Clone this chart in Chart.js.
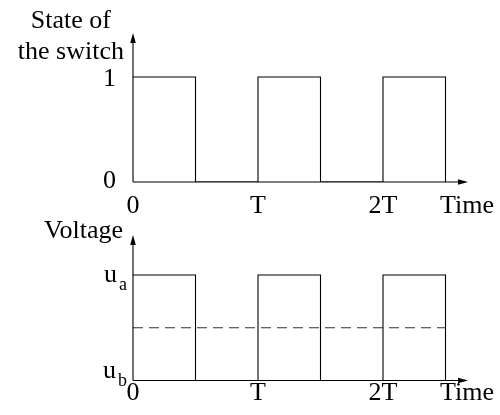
<!DOCTYPE html>
<html>
<head>
<meta charset="utf-8">
<script src="https://cdn.jsdelivr.net/npm/chart.js@4"></script>
<style>
  html, body { margin: 0; padding: 0; background: #fff; }
  #wrap { position: relative; width: 500px; height: 415px; }
  canvas { position: absolute; left: 0; }
</style>
</head>
<body>
<div id="wrap">
  <canvas id="switchChart" width="500" height="215" style="top:0;width:500px;height:215px"></canvas>
  <canvas id="voltageChart" width="500" height="200" style="top:215px;width:500px;height:200px"></canvas>
</div>
<script>
// Switching instants, in units of the period T
const edgeTimes = [0, 0.5, 1, 1.5, 2, 2.5];
// Switch state after each instant (1 = closed, 0 = open)
const switchState = [1, 0, 1, 0, 1, 0];
// Output voltage level after each instant (1 = u_a, 0 = u_b)
const voltageLevel = [1, 0, 1, 0, 1, 0];
// Average voltage, halfway between u_b and u_a
const meanTimes = [0, 2.5];
const meanLevel = [0.5, 0.5];

// Axis ticks
const timeTicks = [0, 1, 2];
const timeTickLabels = ['0', 'T', '2T'];
const stateTicks = [1, 0];
const stateTickLabels = [['1', ''], ['0', '']];
const voltageTicks = [1, 0];
const voltageTickLabels = [['u', 'a'], ['u', 'b']];

const FONT = '"Liberation Serif", "Times New Roman", serif';
const MAIN_SIZE = 26;
const SUB_SIZE = 18;
const INK = '#000';

function points(xs, ys) {
  return xs.map((x, i) => ({ x: x, y: ys[i] }));
}

// Draws arrowed axes, tick labels and axis titles from the chart's own scales
const sketchAxes = {
  id: 'sketchAxes',
  afterDatasetsDraw(chart, args, opts) {
    const ctx = chart.ctx;
    const xs = chart.scales.x, ys = chart.scales.y;
    const area = chart.chartArea;
    const x0 = xs.getPixelForValue(0);
    const y0 = ys.getPixelForValue(0);
    const xEnd = area.right, yEnd = area.top;

    ctx.save();
    ctx.strokeStyle = INK;
    ctx.fillStyle = INK;
    ctx.lineWidth = 1.1;

    // axis lines
    ctx.beginPath();
    ctx.moveTo(x0, y0); ctx.lineTo(xEnd - 4, y0);
    ctx.moveTo(x0, y0); ctx.lineTo(x0, yEnd + 4);
    ctx.stroke();

    // arrowheads
    ctx.beginPath();
    ctx.moveTo(xEnd, y0); ctx.lineTo(xEnd - 10, y0 - 2.8); ctx.lineTo(xEnd - 10, y0 + 2.8);
    ctx.closePath();
    ctx.moveTo(x0, yEnd); ctx.lineTo(x0 - 2.8, yEnd + 10); ctx.lineTo(x0 + 2.8, yEnd + 10);
    ctx.closePath();
    ctx.fill();

    // time ticks
    ctx.font = MAIN_SIZE + 'px ' + FONT;
    ctx.textAlign = 'center';
    ctx.textBaseline = 'alphabetic';
    const tickY = y0 + opts.timeLabelGap;
    timeTicks.forEach((t, i) => {
      ctx.fillText(timeTickLabels[i], xs.getPixelForValue(t), tickY);
    });
    ctx.fillText('Time', xEnd - 1, tickY);

    // level ticks (main text with optional subscript)
    opts.levelTicks.forEach((v, i) => {
      const [main, sub] = opts.levelLabels[i];
      const y = ys.getPixelForValue(v) + (v === ys.min ? opts.baseAtMin : opts.baseOther);
      let right = x0 - 6;
      if (sub) {
        ctx.font = SUB_SIZE + 'px ' + FONT;
        ctx.textAlign = 'right';
        ctx.fillText(sub, right, y + 8);
        right -= ctx.measureText(sub).width + 2;
      } else {
        right -= 11;
      }
      ctx.font = MAIN_SIZE + 'px ' + FONT;
      ctx.textAlign = 'right';
      ctx.fillText(main, right, y);
    });

    // axis title, lines centred on each other, right edge beside the axis
    ctx.font = MAIN_SIZE + 'px ' + FONT;
    const lines = opts.title;
    const widest = Math.max(...lines.map(s => ctx.measureText(s).width));
    const cx = opts.titleRight - widest / 2;
    ctx.textAlign = 'center';
    lines.forEach((s, i) => {
      ctx.fillText(s, cx, opts.titleBase + i * 31);
    });
    ctx.restore();
  }
};

function makeChart(id, datasets, yMax, padding, axisOpts) {
  return new Chart(document.getElementById(id), {
    type: 'line',
    data: { datasets: datasets },
    options: {
      responsive: false,
      animation: false,
      devicePixelRatio: 1,
      layout: { padding: padding },
      plugins: {
        legend: { display: false },
        tooltip: { enabled: false },
        sketchAxes: axisOpts
      },
      elements: { point: { radius: 0 } },
      scales: {
        x: { type: 'linear', min: 0, max: 2.68, display: false },
        y: { type: 'linear', min: 0, max: yMax, display: false }
      }
    },
    plugins: [sketchAxes]
  });
}

makeChart('switchChart', [{
  data: points(edgeTimes, switchState),
  stepped: true,
  borderColor: INK,
  borderWidth: 1.1,
  fill: false
}], 1.42, { left: 133, right: 32, top: 33, bottom: 33 }, {
  timeLabelGap: 31,
  levelTicks: stateTicks,
  levelLabels: stateTickLabels,
  baseAtMin: 6,
  baseOther: 9,
  title: ['State of', 'the switch'],
  titleRight: 124,
  titleBase: 28
});

makeChart('voltageChart', [{
  data: points(edgeTimes, voltageLevel),
  stepped: true,
  borderColor: INK,
  borderWidth: 1.1,
  fill: false
}, {
  data: points(meanTimes, meanLevel),
  borderColor: '#333',
  borderWidth: 1.1,
  borderDash: [10, 6],
  fill: false
}], 1.38, { left: 133, right: 32, top: 20, bottom: 34.5 }, {
  timeLabelGap: 19.5,
  levelTicks: voltageTicks,
  levelLabels: voltageTickLabels,
  baseAtMin: -2.5,
  baseOther: 7,
  title: ['Voltage'],
  titleRight: 123,
  titleBase: 23
});
</script>
</body>
</html>
